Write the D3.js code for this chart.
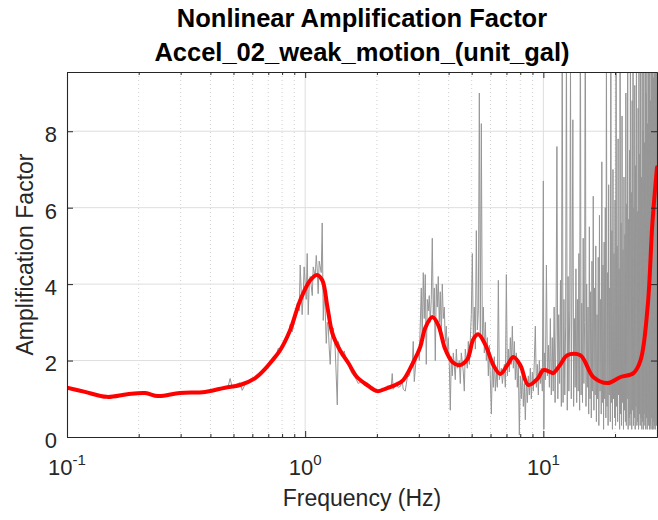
<!DOCTYPE html>
<html><head><meta charset="utf-8">
<script src="https://cdn.jsdelivr.net/npm/d3@7"></script>
<style>
body{margin:0;background:#fff}
svg{display:block}
text{font-family:"Liberation Sans",Arial,Helvetica,sans-serif}
</style>
</head><body>
<svg id="chart" width="658" height="520"></svg>
<script>
// ---------------- DATA ----------------
const titleLines = ["Nonlinear Amplification Factor", "Accel_02_weak_motion_(unit_gal)"];
const xLabel = "Frequency (Hz)";
const yLabel = "Amplification Factor";
const xMajor = [0.1, 1, 10];
const xMajorExp = ["-1", "0", "1"];
const xMinor = [0.2,0.3,0.4,0.5,0.6,0.7,0.8,0.9,2,3,4,5,6,7,8,9,20];
const yTicks = [0, 2, 4, 6, 8];
const xDomain = [0.1, 30];
const yDomain = [0, 9.55];

// smoothed amplification (red)
const redFreq = [0.100,0.119,0.147,0.179,0.213,0.241,0.298,0.380,0.461,0.533,
  0.617,0.679,0.727,0.785,0.865,0.953,1.05,1.12,1.18,1.24,
  1.30,1.40,1.52,1.65,1.82,2.01,2.21,2.39,2.58,2.84,
  3.04,3.19,3.42,3.62,3.87,4.15,4.44,4.80,5.08,5.33,
  5.71,6.17,6.59,7.06,7.48,8.00,8.65,9.44,10.0,10.7,
  11.0,11.8,12.6,14.3,16.2,18.6,21.1,23.9,25.6,27.4,
  28.7,30.0];
const redAmp = [1.29,1.18,1.05,1.12,1.15,1.07,1.15,1.18,1.29,1.36,
  1.54,1.78,2.00,2.27,2.80,3.58,4.10,4.24,4.10,3.40,
  2.72,2.27,1.93,1.57,1.36,1.20,1.28,1.36,1.49,1.95,
  2.35,2.85,3.14,2.93,2.30,1.96,1.88,2.04,2.56,2.69,
  2.41,1.88,1.65,1.88,2.09,1.88,1.36,1.52,1.75,1.70,
  1.67,1.90,2.14,2.14,1.57,1.41,1.57,1.67,2.01,3.40,
  5.60,7.06];

// raw amplification (gray)
const grayFreq = [
  0.100,0.119,0.147,0.179,0.213,0.241,0.298,0.380,0.461,
  0.475,0.484,0.493,0.513,0.533,0.544,0.560,0.587,0.617,0.647,
  0.679,0.713,0.734,0.755,0.770,0.793,0.824,0.849,0.865,0.882,
  0.908,0.926,0.944,0.953,0.971,0.981,0.990,
  1.010,1.020,1.030,1.040,1.050,1.071,1.081,1.102,1.113,1.123,
  1.134,1.145,1.168,1.179,1.191,1.202,1.214,1.226,1.238,1.250,
  1.262,1.274,1.287,1.312,1.337,1.364,1.377,1.403,1.431,1.459,
  1.487,1.517,1.546,1.577,1.624,1.671,1.720,1.770,1.822,1.876,
  1.931,1.988,2.046,2.106,2.168,2.232,2.298,2.320,2.342,2.411,
  2.458,2.507,
  2.556,2.581,2.631,2.683,2.735,2.762,2.816,2.843,2.871,2.927,
  2.984,3.013,3.072,3.102,3.132,3.162,3.193,3.224,3.256,3.287,
  3.319,3.351,3.384,3.417,3.450,3.484,3.518,3.552,3.586,3.621,
  3.656,3.692,3.728,3.764,3.801,3.838,3.875,3.913,3.951,3.989,
  4.028,4.067,4.107,4.147,4.187,4.269,4.311,4.353,4.437,4.480,
  4.524,4.612,4.657,4.702,4.794,4.841,4.888,4.983,5.032,5.081,
  5.130,5.180,5.231,5.282,5.333,5.385,5.437,5.490,5.544,5.598,
  5.652,5.707,5.763,5.819,5.875,5.932,5.989,6.048,6.106,6.166,
  6.226,6.286,6.347,6.409,6.472,6.534,6.662,6.727,6.858,6.924,
  6.992,7.060,7.128,7.197,7.267,7.338,7.409,7.481,7.554,7.627,
  7.701,7.776,7.851,7.928,8.005,8.083,8.161,8.240,8.320,8.401,
  8.483,8.565,8.648,8.732,8.817,8.903,8.989,9.077,9.165,9.254,
  9.344,9.434,9.526,9.618,9.712,9.806,9.901,10.00,10.05,10.10,
  10.20,10.30,10.40,
  10.5,10.6,10.7,10.8,10.9,11.0,11.1,11.2,11.3,11.4,
  11.5,11.6,11.7,11.8,11.9,12.0,12.1,12.2,12.3,12.4,
  12.5,12.6,12.7,12.8,12.9,13.0,13.1,13.2,13.3,13.4,
  13.5,13.6,13.7,13.8,13.9,14.0,14.1,14.2,14.3,14.4,
  14.5,14.6,14.7,14.8,14.9,15.0,15.1,15.2,15.3,15.4,
  15.5,15.6,15.7,15.8,15.9,16.0,16.1,16.2,16.3,16.4,
  16.5,16.6,16.7,16.8,16.9,17.0,17.1,17.2,17.3,17.4,
  17.5,17.6,17.7,17.8,17.9,18.0,18.1,18.2,18.3,18.4,
  18.5,18.6,18.7,18.8,18.9,19.0,19.1,19.2,19.3,19.4,
  19.5,19.6,19.7,19.8,19.9,20.0,20.1,20.2,20.3,20.4,
  20.5,20.6,20.7,20.8,20.9,21.0,21.1,21.2,21.3,21.4,
  21.5,21.6,21.7,21.8,21.9,22.0,22.1,22.2,22.3,22.4,
  22.5,22.6,22.7,22.8,22.9,23.0,23.1,23.2,23.3,23.4,
  23.5,23.6,23.7,23.8,23.9,24.0,24.1,24.2,24.3,24.4,
  24.5,24.6,24.7,24.8,24.9,25.0,25.1,25.2,25.3,25.4,
  25.5,25.6,25.7,25.8,25.9,26.0,26.1,26.2,26.3,26.4,
  26.5,26.6,26.7,26.8,26.9,27.0,27.1,27.2,27.3,27.4,
  27.5,27.6,27.7,27.8,27.9,28.0,28.1,28.2,28.3,28.4,
  28.5,28.6,28.7,28.8,28.9,29.0,29.1,29.2,29.3,29.4,
  29.5,29.6,29.7,29.8,29.9,30.0];
const grayAmp = [
  1.29,1.18,1.05,1.12,1.15,1.07,1.15,1.18,1.29,
  1.33,1.53,1.32,1.38,1.42,1.22,1.38,1.45,1.55,1.68,
  1.80,1.95,2.08,2.12,2.32,2.30,2.55,2.65,2.95,2.75,
  3.10,3.50,3.30,4.50,3.20,3.70,4.45,
  3.60,4.80,3.20,4.00,4.20,3.70,4.45,4.20,4.75,4.40,
  3.75,4.60,4.30,5.60,3.05,3.80,3.30,2.45,3.00,2.90,
  2.30,1.90,2.60,2.85,2.30,0.84,2.50,2.30,2.10,2.25,
  2.00,1.95,1.75,1.65,1.55,1.40,1.45,1.35,1.32,1.35,
  1.20,1.22,1.18,1.28,1.25,1.30,1.30,1.66,1.25,1.38,
  1.30,1.32,
  1.45,1.25,1.20,1.55,1.60,1.75,1.90,2.50,1.45,2.10,
  2.30,2.00,3.90,2.60,4.30,3.10,4.25,1.90,3.60,3.30,
  3.70,3.00,3.60,5.20,3.20,3.90,2.00,4.00,3.40,4.20,
  3.00,3.80,2.60,4.00,3.10,3.40,2.50,2.90,2.20,2.60,
  1.90,0.70,2.10,1.60,2.20,1.50,2.30,1.80,2.00,1.40,
  2.20,1.70,1.20,2.30,1.80,2.50,1.90,3.20,4.80,2.60,
  3.40,2.30,5.40,2.80,3.30,9.00,2.70,8.20,2.50,3.40,
  2.20,3.00,2.00,2.60,1.60,2.40,1.50,0.60,1.90,1.30,
  2.10,1.20,1.70,1.30,4.10,1.50,1.80,1.40,1.90,1.30,
  4.25,1.60,2.30,1.70,2.60,1.90,2.90,1.80,2.50,1.50,
  2.20,1.30,1.90,0.05,1.60,1.00,1.70,0.80,1.40,0.45,
  1.50,0.90,1.60,1.10,1.80,1.00,1.70,1.20,2.00,2.90,
  1.30,1.90,1.10,2.00,1.40,1.80,1.20,6.70,0.20,2.20,
  1.50,4.50,1.60,
  2.4,1.3,3.1,1.1,2.6,1.2,3.4,0.9,2.8,7.6,
  1.0,3.2,1.4,4.1,0.8,11.0,0.9,3.6,1.1,2.9,
  10.5,0.7,4.2,1.2,3.3,9.8,1.0,3.9,8.3,0.8,
  3.1,1.3,4.4,0.9,3.6,1.2,4.8,0.7,12.0,1.1,
  3.5,0.9,5.2,1.4,3.0,12.5,0.8,4.0,1.3,3.4,
  0.6,5.5,1.0,3.8,0.5,4.6,1.2,6.3,0.7,3.9,
  1.1,5.0,0.4,3.2,1.0,4.7,0.3,5.8,1.2,3.6,
  0.6,7.2,0.9,4.5,0.2,5.1,1.0,6.0,0.5,11.0,
  0.8,4.3,0.3,6.6,1.1,3.9,0.4,12.0,0.9,5.4,
  0.2,7.0,1.0,4.8,0.5,6.2,0.3,13.0,0.8,5.0,
  0.4,7.8,1.1,4.4,0.2,12.0,0.6,5.6,0.3,8.4,
  0.9,4.9,0.2,6.8,0.7,5.3,0.4,9.0,0.3,6.1,
  1.0,12.0,0.2,5.7,0.5,7.5,0.3,13.0,0.6,6.4,
  0.2,8.8,0.7,12.0,0.3,6.0,0.5,9.2,0.2,7.1,
  0.8,12.5,0.3,5.9,0.4,8.6,0.2,13.0,0.6,7.4,
  0.3,10.5,0.5,6.8,0.2,12.0,0.4,8.0,0.2,11.0,
  0.6,7.7,0.3,13.0,0.2,9.0,0.5,12.0,0.2,8.2,
  0.4,14.0,0.3,9.6,0.2,12.5,0.3,8.8,0.2,13.0,
  0.5,10.0,0.2,12.0,0.4,9.4,0.2,13.5,0.3,11.0,
  0.2,12.0,0.4,10.0,0.3,9.0];

// ---------------- CHART ----------------
const W = 658, H = 520;
const box = {l: 67, r: 657, t: 72, b: 437};
const axisColor = "#262626";

const x = d3.scaleLog().domain(xDomain).range([box.l, box.r]);
const y = d3.scaleLinear().domain(yDomain).range([box.b, box.t]);

const svg = d3.select("#chart");
svg.append("rect").attr("width", W).attr("height", H).attr("fill", "#fff");

svg.append("defs").append("clipPath").attr("id", "plotclip")
  .append("rect").attr("x", box.l).attr("y", box.t)
  .attr("width", box.r - box.l).attr("height", box.b - box.t);

// grid
const grid = svg.append("g");
grid.selectAll("line.minor").data(xMinor).join("line")
  .attr("x1", d => x(d)).attr("x2", d => x(d))
  .attr("y1", box.t).attr("y2", box.b)
  .attr("stroke", "#c4c4c4").attr("stroke-width", 0.8)
  .attr("stroke-dasharray", "1,3");
grid.selectAll("line.majx").data(xMajor.slice(1)).join("line")
  .attr("x1", d => x(d)).attr("x2", d => x(d))
  .attr("y1", box.t).attr("y2", box.b)
  .attr("stroke", "#dedede").attr("stroke-width", 1);
grid.selectAll("line.majy").data(yTicks.slice(1)).join("line")
  .attr("class", "majy")
  .attr("x1", box.l).attr("x2", box.r)
  .attr("y1", d => y(d)).attr("y2", d => y(d))
  .attr("stroke", "#dedede").attr("stroke-width", 1);

// series
const n1 = Math.min(grayFreq.length, grayAmp.length);
const grayData = d3.range(n1).map(i => [grayFreq[i], grayAmp[i]]);
const n2 = Math.min(redFreq.length, redAmp.length);
const redData = d3.range(n2).map(i => [redFreq[i], redAmp[i]]);

const plot = svg.append("g").attr("clip-path", "url(#plotclip)");
plot.append("path").datum(grayData)
  .attr("fill", "none").attr("stroke", "#969696").attr("stroke-width", 1)
  .attr("stroke-linejoin", "round")
  .attr("d", d3.line().x(d => x(d[0])).y(d => y(d[1])));
plot.append("path").datum(redData)
  .attr("fill", "none").attr("stroke", "#ff0000").attr("stroke-width", 4)
  .attr("stroke-linejoin", "round").attr("stroke-linecap", "round")
  .attr("d", d3.line().curve(d3.curveCatmullRom.alpha(0.5)).x(d => x(d[0])).y(d => y(d[1])));

// axes
function styleAxis(g) {
  g.attr("font-family", null).attr("font-size", null);
  g.selectAll("path.domain").attr("stroke", axisColor).attr("stroke-width", 1.1);
  g.selectAll(".tick line").attr("stroke", axisColor).attr("stroke-width", 1);
  g.selectAll("text").attr("fill", axisColor).style("font-size", "22px");
}
svg.append("g").attr("transform", `translate(0,${box.b})`)
  .call(d3.axisBottom(x).tickValues(xMinor).tickSize(-3).tickSizeOuter(0).tickFormat(""))
  .call(styleAxis);
svg.append("g").attr("transform", `translate(0,${box.b})`)
  .call(d3.axisBottom(x).tickValues(xMajor).tickSize(-6).tickSizeOuter(0).tickFormat(""))
  .call(styleAxis);
svg.append("g").attr("transform", `translate(0,${box.t})`)
  .call(d3.axisTop(x).tickValues(xMinor).tickSize(-3).tickSizeOuter(0).tickFormat(""))
  .call(styleAxis);
svg.append("g").attr("transform", `translate(0,${box.t})`)
  .call(d3.axisTop(x).tickValues(xMajor).tickSize(-6).tickSizeOuter(0).tickFormat(""))
  .call(styleAxis);
svg.append("g").attr("transform", `translate(${box.l},0)`)
  .call(d3.axisLeft(y).tickValues(yTicks).tickSize(-6).tickSizeOuter(0).tickPadding(10).tickFormat(d3.format("d")))
  .call(styleAxis)
  .call(g => g.selectAll("text").attr("dy", "0.47em"));
svg.append("g").attr("transform", `translate(${box.r},0)`)
  .call(d3.axisRight(y).tickValues(yTicks).tickSize(-6).tickSizeOuter(0).tickFormat(""))
  .call(styleAxis);

// x tick labels with superscripts
const xl = svg.append("g").attr("fill", axisColor);
xMajor.forEach((v, i) => {
  const t = xl.append("text").attr("x", x(v)).attr("y", 475)
    .attr("text-anchor", "middle").style("font-size", "22px");
  t.append("tspan").text("10");
  t.append("tspan").attr("dy", -10).style("font-size", "15px").text(xMajorExp[i]);
});

// labels
svg.append("text").attr("x", (box.l + box.r) / 2).attr("y", 506)
  .attr("text-anchor", "middle").attr("fill", axisColor)
  .style("font-size", "23px").text(xLabel);
svg.append("text").attr("transform", `translate(33,${(box.t + box.b) / 2}) rotate(-90)`)
  .attr("text-anchor", "middle").attr("fill", axisColor)
  .style("font-size", "23px").text(yLabel);

// title
titleLines.forEach((s, i) => {
  svg.append("text").attr("x", (box.l + box.r) / 2).attr("y", 27 + i * 34)
    .attr("text-anchor", "middle").attr("fill", "#000")
    .style("font-size", "25.5px").style("font-weight", "bold").text(s);
});
</script>
</body></html>
